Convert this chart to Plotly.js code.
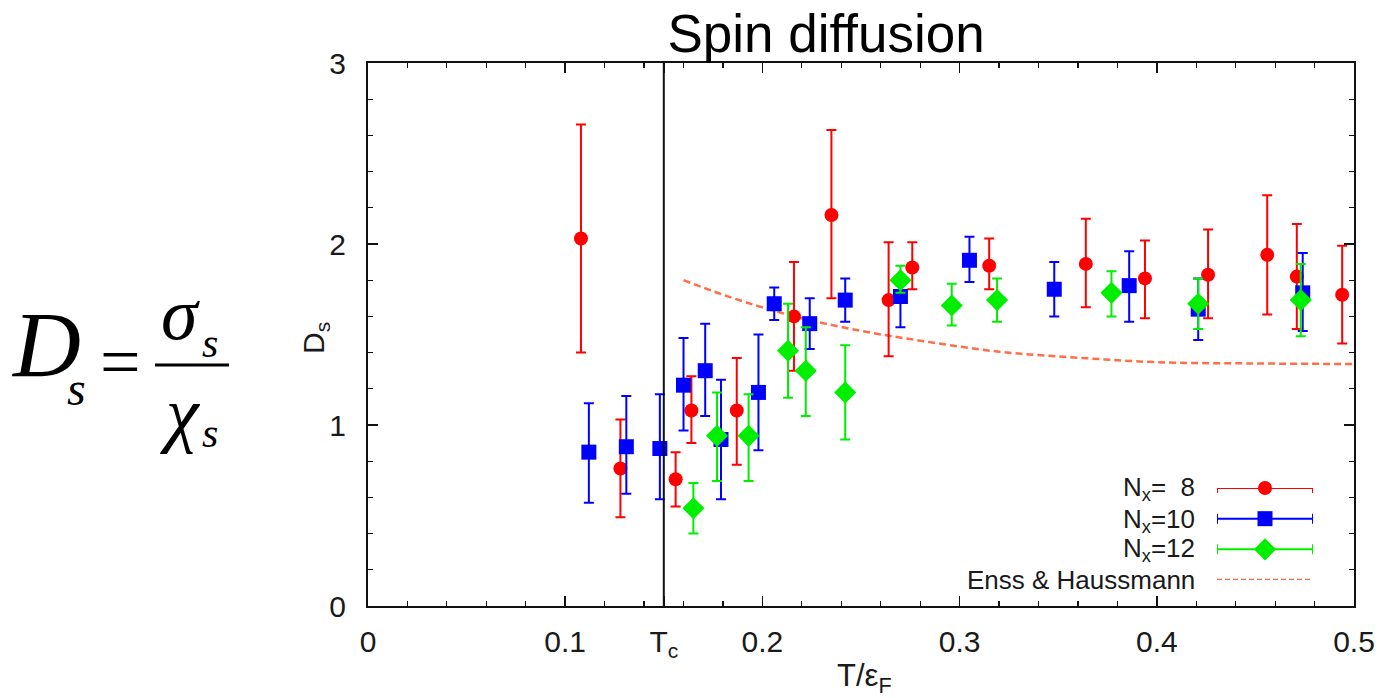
<!DOCTYPE html>
<html>
<head>
<meta charset="utf-8">
<script src="https://cdn.plot.ly/plotly-3.0.1.min.js"></script>
<style>html,body{margin:0;padding:0;background:#fff;}#chart{width:1387px;height:698px;}</style>
</head>
<body>
<div id="chart"></div>
<script>
// ---- data ----
const nx8_T   = [0.108, 0.128, 0.156, 0.164, 0.187, 0.216, 0.235, 0.264, 0.276, 0.315, 0.364, 0.394, 0.426, 0.456, 0.471, 0.494];
const nx8_D   = [2.03, 0.76, 0.70, 1.08, 1.08, 1.60, 2.16, 1.69, 1.87, 1.88, 1.89, 1.81, 1.83, 1.94, 1.82, 1.72];
const nx8_hi  = [2.66, 1.03, 0.85, 1.27, 1.37, 1.90, 2.63, 2.01, 2.01, 2.03, 2.14, 2.02, 2.08, 2.27, 2.11, 1.99];
const nx8_lo  = [1.40, 0.49, 0.55, 0.90, 0.78, 1.30, 1.70, 1.38, 1.75, 1.75, 1.65, 1.59, 1.59, 1.61, 1.53, 1.45];

const nx10_T  = [0.112, 0.131, 0.148, 0.160, 0.171, 0.179, 0.198, 0.206, 0.224, 0.242, 0.270, 0.305, 0.348, 0.386, 0.421, 0.474];
const nx10_D  = [0.85, 0.88, 0.87, 1.22, 1.30, 0.92, 1.18, 1.67, 1.56, 1.69, 1.71, 1.91, 1.75, 1.77, 1.64, 1.73];
const nx10_hi = [1.12, 1.16, 1.17, 1.48, 1.56, 1.25, 1.50, 1.76, 1.70, 1.81, 1.81, 2.04, 1.90, 1.96, 1.81, 1.95];
const nx10_lo = [0.57, 0.62, 0.59, 0.97, 1.05, 0.59, 0.86, 1.58, 1.42, 1.57, 1.54, 1.79, 1.60, 1.57, 1.47, 1.52];

const nx12_T  = [0.165, 0.177, 0.193, 0.213, 0.222, 0.242, 0.270, 0.296, 0.319, 0.377, 0.421, 0.473];
const nx12_D  = [0.54, 0.94, 0.94, 1.41, 1.30, 1.18, 1.80, 1.66, 1.69, 1.73, 1.67, 1.69];
const nx12_hi = [0.68, 1.18, 1.17, 1.67, 1.54, 1.44, 1.88, 1.78, 1.81, 1.85, 1.81, 1.89];
const nx12_lo = [0.40, 0.69, 0.69, 1.15, 1.05, 0.92, 1.73, 1.55, 1.57, 1.60, 1.53, 1.49];

const eh_T = [0.16, 0.18, 0.20, 0.22, 0.25, 0.28, 0.32, 0.36, 0.40, 0.45, 0.50];
const eh_D = [1.80, 1.72, 1.65, 1.59, 1.52, 1.466, 1.405, 1.372, 1.347, 1.34, 1.337];

const Tc = 0.15;
const xTickVals = [0, 0.1, Tc, 0.2, 0.3, 0.4, 0.5];
const xTickText = ['0', '0.1', 'T<sub>c</sub>', '0.2', '0.3', '0.4', '0.5'];
const yTickVals = [0, 1, 2, 3];
const legendNames = ['N<sub>x</sub>=&nbsp;&nbsp;8', 'N<sub>x</sub>=10', 'N<sub>x</sub>=12', 'Enss &amp; Haussmann'];

// ---- styling ----
const RED = '#ff0000', BLUE = '#0000ff', GREEN = '#00ee00', CURVE = 'rgba(255,85,40,0.85)';
const SANS = 'Liberation Sans, Arial, sans-serif';
const SERIF = 'Liberation Serif, Times New Roman, serif';
const TXT = '#1a1a1a';
const W = 1387, H = 698;
const M = {l: 368, r: 33, t: 63, b: 92};
const PW = W - M.l - M.r, PH = H - M.t - M.b;
const px = x => (x - M.l) / PW;      // page pixel -> paper x
const py = y => (H - M.b - y) / PH;  // page pixel -> paper y

const minus = (v, lo) => v.map((d, i) => d - lo[i]);
const plus = (v, hi) => v.map((d, i) => hi[i] - d);

function series(T, D, hi, lo, color, symbol, size, name) {
  return {
    type: 'scatter', mode: 'markers', name: name, x: T, y: D,
    marker: {color: color, symbol: symbol, size: size, line: {width: 0}},
    error_y: {type: 'data', symmetric: false, array: plus(D, hi), arrayminus: minus(D, lo),
              color: color, thickness: 2, width: 5},
    showlegend: false, cliponaxis: false
  };
}

const traces = [
  {type: 'scatter', mode: 'lines', x: eh_T, y: eh_D, name: 'Enss & Haussmann',
   line: {color: CURVE, width: 2.5, dash: '7px,4px', shape: 'spline'}, showlegend: false},
  series(nx8_T, nx8_D, nx8_hi, nx8_lo, RED, 'circle', 14, 'Nx=8'),
  series(nx10_T, nx10_D, nx10_hi, nx10_lo, BLUE, 'square', 15, 'Nx=10'),
  series(nx12_T, nx12_D, nx12_hi, nx12_lo, GREEN, 'diamond', 17, 'Nx=12'),
];

// legend samples drawn on a hidden helper axis pair
const legColors = [RED, BLUE, GREEN];
const legSymbols = ['circle', 'square', 'diamond'];
const legSizes = [14, 15, 17];
for (let i = 0; i < 3; i++) {
  traces.push({type: 'scatter', mode: 'markers', x: [0], y: [3 - i], xaxis: 'x2', yaxis: 'y2',
    marker: {color: legColors[i], symbol: legSymbols[i], size: legSizes[i]},
    error_x: {type: 'data', array: [1], color: legColors[i], thickness: 2, width: 5},
    showlegend: false, hoverinfo: 'skip', cliponaxis: false});
}
traces.push({type: 'scatter', mode: 'lines', x: [-1, 1], y: [0, 0], xaxis: 'x2', yaxis: 'y2',
  line: {color: CURVE, width: 2.5, dash: '5px,3px'}, showlegend: false, hoverinfo: 'skip', cliponaxis: false});

const legRowY = [488, 520, 549, 580];
const annotations = [];
legendNames.forEach((t, i) => annotations.push({
  xref: 'paper', yref: 'paper', x: px(1197), y: py(legRowY[i]), xanchor: 'right', yanchor: 'middle',
  text: t, showarrow: false, font: {family: SANS, size: 26, color: TXT}
}));
// axis titles
annotations.push({xref: 'paper', yref: 'paper', x: px(864), y: py(678), xanchor: 'center', yanchor: 'middle',
  text: 'T/ε<sub>F</sub>', showarrow: false, font: {family: SANS, size: 31, color: TXT}});
annotations.push({xref: 'paper', yref: 'paper', x: px(316), y: py(338), xanchor: 'center', yanchor: 'middle',
  text: 'D<sub>s</sub>', textangle: -90, showarrow: false, font: {family: SANS, size: 30, color: TXT}});
// formula D_s = sigma_s / chi_s
const f = (t, x, y, s) => annotations.push({xref: 'paper', yref: 'paper', x: px(x), y: py(y),
  xanchor: 'center', yanchor: 'middle', text: t, showarrow: false,
  font: {family: SERIF, size: s, color: '#000'}});
f('<i>D</i>', 46, 344, 94);
f('<i>s</i>', 76, 388, 48);
f('=', 120, 362, 72);
f('<i>σ</i>', 180, 314, 74);
f('<i>s</i>', 210, 343, 42);
f('<i>χ</i>', 180, 413, 74);
f('<i>s</i>', 210, 433, 42);

const shapes = [
  {type: 'line', xref: 'x', yref: 'paper', x0: Tc, x1: Tc, y0: 0, y1: 1, line: {color: '#111', width: 2}},
  {type: 'line', xref: 'paper', yref: 'paper', x0: px(155), x1: px(229), y0: py(365), y1: py(365),
   line: {color: '#000', width: 3}}
];

const layout = {
  width: W, height: H, margin: M, paper_bgcolor: '#fff', plot_bgcolor: '#fff',
  title: {text: 'Spin diffusion', x: px(826), xref: 'paper', xanchor: 'center',
          y: 1 - 33 / H, yref: 'container', yanchor: 'middle',
          font: {family: SANS, size: 53, color: '#000'}},
  xaxis: {range: [0, 0.5], tickmode: 'array', tickvals: xTickVals, ticktext: xTickText,
          ticks: 'inside', ticklen: 10, tickwidth: 1.5, tickcolor: '#111',
          minor: {tickmode: 'linear', tick0: 0, dtick: 0.02, ticks: 'inside', ticklen: 5, tickwidth: 1.2, tickcolor: '#111'},
          showline: true, linecolor: '#111', linewidth: 2, mirror: 'allticks', showgrid: false, zeroline: false,
          tickfont: {family: SANS, size: 30, color: TXT}, ticklabelstandoff: 8, fixedrange: true},
  yaxis: {range: [0, 3], tickmode: 'array', tickvals: yTickVals,
          ticks: 'inside', ticklen: 10, tickwidth: 1.5, tickcolor: '#111',
          minor: {tickmode: 'linear', tick0: 0, dtick: 0.2, ticks: 'inside', ticklen: 5, tickwidth: 1.2, tickcolor: '#111'},
          showline: true, linecolor: '#111', linewidth: 2, mirror: 'allticks', showgrid: false, zeroline: false,
          tickfont: {family: SANS, size: 30, color: TXT}, ticklabelstandoff: 14, fixedrange: true},
  xaxis2: {domain: [px(1217), px(1313)], range: [-1, 1], visible: false, anchor: 'y2', fixedrange: true},
  yaxis2: {domain: [py(580), py(488)], range: [0, 3], visible: false, anchor: 'x2', fixedrange: true},
  showlegend: false, annotations: annotations, shapes: shapes, hovermode: false
};

Plotly.newPlot('chart', traces, layout, {displayModeBar: false, staticPlot: true});
</script>
</body>
</html>
